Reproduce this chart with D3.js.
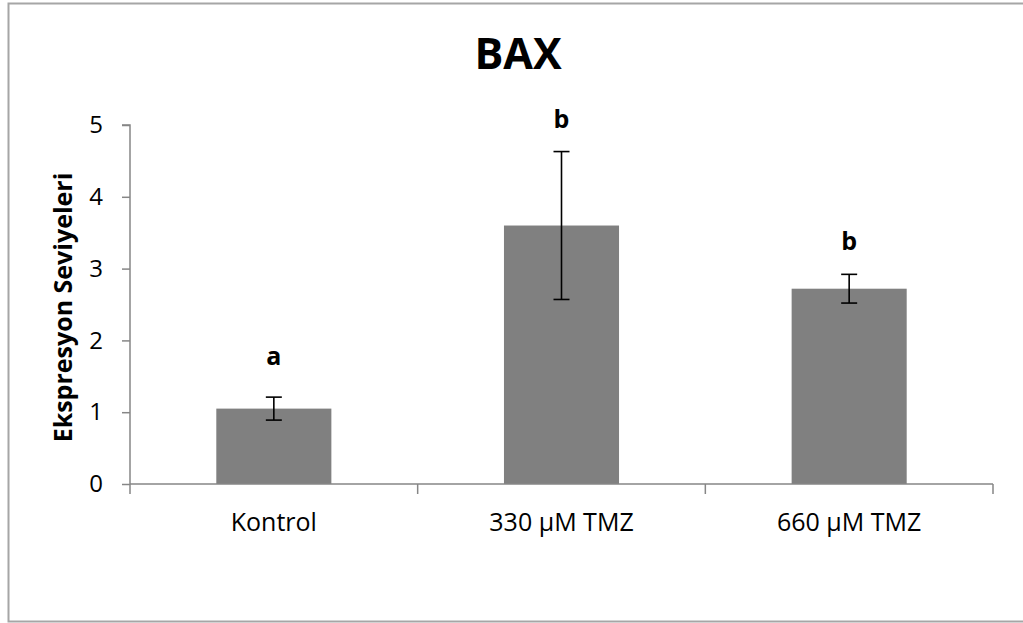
<!DOCTYPE html>
<html>
<head>
<meta charset="utf-8">
<script src="https://cdn.jsdelivr.net/npm/d3@7"></script>
<style>
  html, body { margin: 0; padding: 0; background: #fff; }
  svg { display: block; }
  text { font-family: "Open Sans", "Noto Sans", sans-serif; }
</style>
</head>
<body>
<svg id="chart" width="1023" height="623"></svg>
<script>
const categories = ["Kontrol", "330 µM TMZ", "660 µM TMZ"];
const means = [1.05, 3.60, 2.72];
const errors = [0.16, 1.03, 0.20];
const letters = ["a", "b", "b"];
const letterY = [1.66, 4.96, 3.26];
const yTicks = [0, 1, 2, 3, 4, 5];
const title = "BAX";
const yTitle = "Ekspresyon Seviyeleri";

const svg = d3.select("#chart");
const W = 1023, H = 623;
const plot = { left: 130, right: 993, top: 125, bottom: 484 };

// outer frame
svg.append("rect")
  .attr("x", 8.5).attr("y", 3.5)
  .attr("width", 1030).attr("height", 618)
  .attr("fill", "#fff").attr("stroke", "#a6a6a6").attr("stroke-width", 2);

const x = d3.scaleBand().domain(categories)
  .range([plot.left, plot.right]).paddingInner(0.6).paddingOuter(0.3);
const xOuter = d3.scaleBand().domain(categories)
  .range([plot.left, plot.right]).padding(0);
const y = d3.scaleLinear().domain([0, 5]).range([plot.bottom, plot.top]);

const axisColor = "#868686";

// bars
svg.append("g").selectAll("rect").data(categories).join("rect")
  .attr("x", d => x(d))
  .attr("y", (d, i) => y(means[i]))
  .attr("width", x.bandwidth())
  .attr("height", (d, i) => y(0) - y(means[i]))
  .attr("fill", "#808080");

// y axis
const yAxis = svg.append("g")
  .attr("transform", `translate(${plot.left},0)`)
  .call(d3.axisLeft(y).tickValues(yTicks).tickSize(8).tickPadding(19).tickFormat(d3.format("d")));
yAxis.selectAll("path, line").attr("stroke", axisColor).attr("stroke-width", 1.5);
yAxis.select(".domain").attr("d", `M-8,${plot.top}H0V${plot.bottom}`);
yAxis.selectAll("text").attr("font-size", 24).attr("fill", "#000")
  .attr("font-family", '"Open Sans", sans-serif');

// x axis
const xAxisG = svg.append("g").attr("transform", `translate(0,${plot.bottom})`);
xAxisG.append("line")
  .attr("x1", plot.left).attr("x2", plot.right)
  .attr("stroke", axisColor).attr("stroke-width", 1.5);
const boundaries = categories.map(c => xOuter(c)).concat([xOuter(categories[categories.length - 1]) + xOuter.bandwidth()]);
xAxisG.selectAll("line.tick").data(boundaries).join("line")
  .attr("class", "tick")
  .attr("x1", d => d).attr("x2", d => d)
  .attr("y1", 0).attr("y2", 10)
  .attr("stroke", axisColor).attr("stroke-width", 1.5);
xAxisG.selectAll("text").data(categories).join("text")
  .attr("x", d => x(d) + x.bandwidth() / 2)
  .attr("y", 47)
  .attr("text-anchor", "middle")
  .attr("font-size", 25)
  .attr("fill", "#000")
  .text(d => d);

// error bars
const eb = svg.append("g").attr("stroke", "#000").attr("stroke-width", 1.6);
categories.forEach((c, i) => {
  const cx = x(c) + x.bandwidth() / 2;
  const top = y(means[i] + errors[i]);
  const bot = y(means[i] - errors[i]);
  eb.append("line").attr("x1", cx).attr("x2", cx).attr("y1", top).attr("y2", bot);
  eb.append("line").attr("x1", cx - 8).attr("x2", cx + 8).attr("y1", top).attr("y2", top);
  eb.append("line").attr("x1", cx - 8).attr("x2", cx + 8).attr("y1", bot).attr("y2", bot);
});

// significance letters
svg.append("g").selectAll("text").data(categories).join("text")
  .attr("x", d => x(d) + x.bandwidth() / 2)
  .attr("y", (d, i) => y(letterY[i]))
  .attr("text-anchor", "middle")
  .attr("font-size", 25)
  .attr("font-weight", "bold")
  .attr("fill", "#000")
  .text((d, i) => letters[i]);

// title
svg.append("text")
  .attr("x", 518).attr("y", 69)
  .attr("text-anchor", "middle")
  .attr("font-size", 43)
  .attr("font-weight", "bold")
  .attr("fill", "#000")
  .text(title);

// y axis title
svg.append("text")
  .attr("transform", `translate(72,${(plot.top + plot.bottom) / 2 + 3}) rotate(-90)`)
  .attr("text-anchor", "middle")
  .attr("font-size", 25)
  .attr("font-weight", "bold")
  .attr("fill", "#000")
  .text(yTitle);
</script>
</body>
</html>
